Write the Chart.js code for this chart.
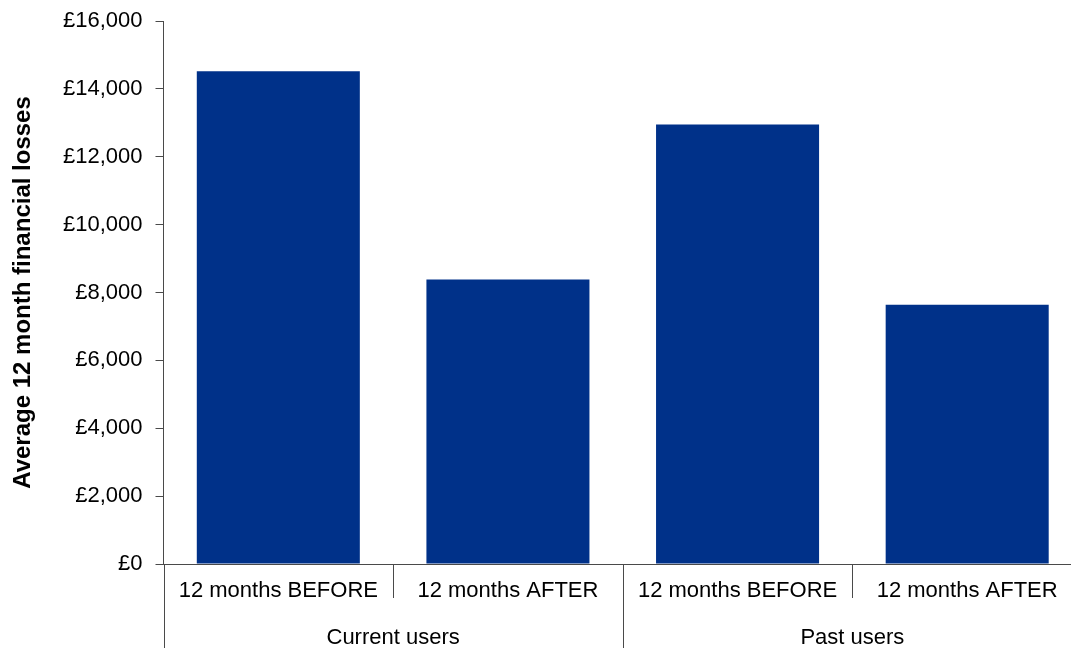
<!DOCTYPE html>
<html>
<head>
<meta charset="utf-8">
<title>Average 12 month financial losses</title>
<script src="https://cdn.jsdelivr.net/npm/chart.js@4.4.1/dist/chart.umd.min.js"></script>
<style>
  html, body { margin: 0; padding: 0; background: #fff; overflow: hidden; }
  #chart { display: block; }
</style>
</head>
<body>
<canvas id="chart" width="1090" height="648"></canvas>
<script>
// data
const groups = ['Current users', 'Past users'];
const groupOf = [0, 0, 1, 1];
const periods = ['12 months BEFORE', '12 months AFTER', '12 months BEFORE', '12 months AFTER'];
const losses = [14520, 8380, 12950, 7640];
const yMax = 16000;
const yStep = 2000;

const lineColor = '#4a4a4a';
Chart.defaults.font.family = '"Liberation Sans", Arial, sans-serif';
Chart.defaults.color = '#000';

// draws the category separators and the group labels under the x axis
const groupAxis = {
  id: 'groupAxis',
  afterDraw(chart) {
    const { ctx, chartArea, scales: { x } } = chart;
    const bottom = chart.height;
    const shortEnd = chartArea.bottom + 34;
    const edges = [chartArea.left];
    for (let i = 0; i < periods.length - 1; i++) {
      edges.push((x.getPixelForValue(i) + x.getPixelForValue(i + 1)) / 2);
    }
    edges.push(chartArea.right);

    ctx.save();
    ctx.strokeStyle = lineColor;
    ctx.lineWidth = 1;
    edges.forEach((px, i) => {
      const isGroupEdge = i === 0 || i === edges.length - 1 || groupOf[i] !== groupOf[i - 1];
      ctx.beginPath();
      ctx.moveTo(Math.round(px) + 0.5, chartArea.bottom);
      ctx.lineTo(Math.round(px) + 0.5, isGroupEdge ? bottom : shortEnd);
      ctx.stroke();
    });

    ctx.fillStyle = '#000';
    ctx.font = '22px "Liberation Sans", Arial, sans-serif';
    ctx.textAlign = 'center';
    ctx.textBaseline = 'alphabetic';
    groups.forEach((g, gi) => {
      const first = groupOf.indexOf(gi);
      const last = groupOf.lastIndexOf(gi);
      const mid = (edges[first] + edges[last + 1]) / 2;
      ctx.fillText(g, mid, chartArea.bottom + 80);
    });
    ctx.restore();
  }
};

const ctx = document.getElementById('chart').getContext('2d');
const lossChart = new Chart(ctx, {
  type: 'bar',
  data: {
    labels: periods,
    datasets: [{
      label: 'Average 12 month financial losses',
      data: losses,
      backgroundColor: '#003189',
      borderWidth: 0,
      barPercentage: 0.71,
      categoryPercentage: 1
    }]
  },
  options: {
    responsive: false,
    animation: false,
    layout: {
      padding: { top: 21, right: 8, bottom: 44, left: 0 }
    },
    plugins: {
      legend: { display: false },
      tooltip: { enabled: false }
    },
    scales: {
      x: {
        offset: true,
        grid: { display: false, drawTicks: false },
        border: { display: true, color: lineColor, width: 1 },
        ticks: {
          font: { size: 22 },
          color: '#000',
          padding: 14,
          maxRotation: 0,
          autoSkip: false
        },
        afterFit(scale) { scale.height = 40; }
      },
      y: {
        min: 0,
        max: yMax,
        grid: {
          drawOnChartArea: false,
          drawTicks: true,
          tickLength: 8,
          color: lineColor
        },
        border: { display: true, color: lineColor, width: 1 },
        ticks: {
          stepSize: yStep,
          padding: 13,
          font: { size: 22 },
          color: '#000',
          callback: v => '£' + v.toLocaleString('en-GB')
        },
        title: {
          display: true,
          text: 'Average 12 month financial losses',
          font: { size: 24, weight: 'bold' },
          color: '#000',
          padding: { top: 9, bottom: 0 }
        },
        afterFit(scale) {
          scale.width = 163.5;
          scale.paddingTop = 0;
          scale.paddingBottom = 0;
        }
      }
    }
  },
  plugins: [groupAxis]
});
</script>
</body>
</html>
